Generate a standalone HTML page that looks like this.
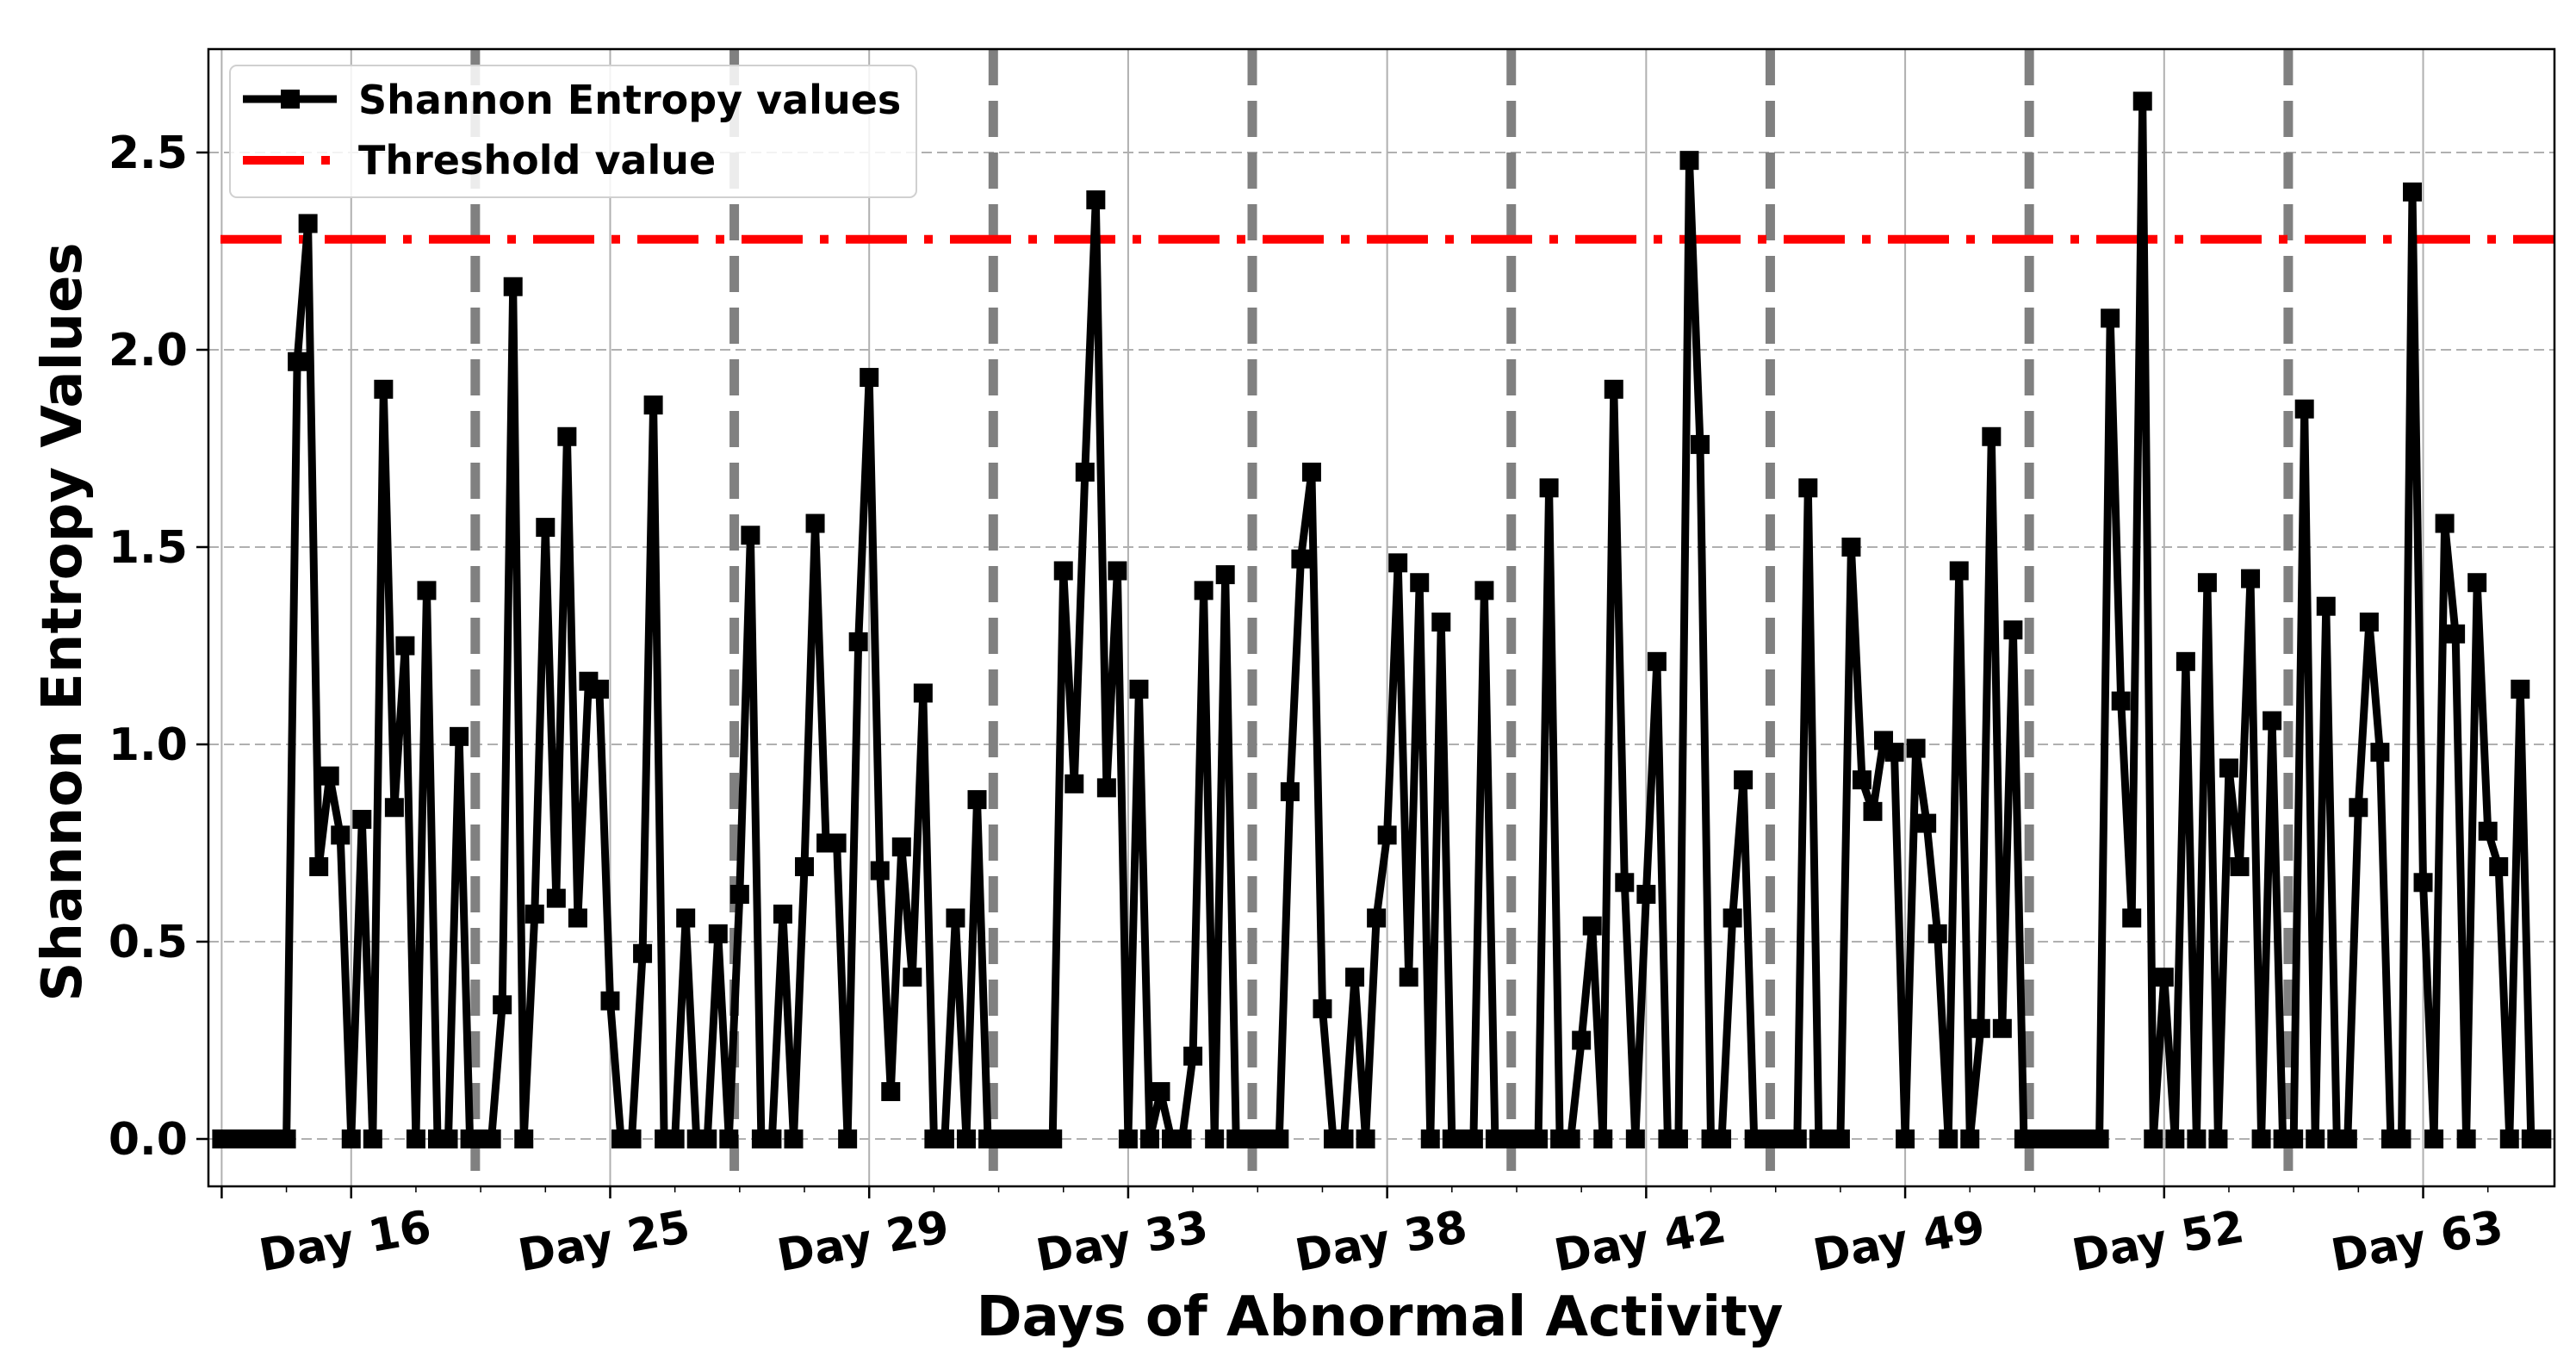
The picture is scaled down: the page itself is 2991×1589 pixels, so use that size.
<!DOCTYPE html>
<html><head><meta charset="utf-8"><style>
html,body{margin:0;padding:0;background:#fff;}
svg{display:block;font-family:"DejaVu Sans","Liberation Sans",sans-serif;}
</style></head><body>
<svg id="chart" width="2991" height="1589" viewBox="0 0 2991 1589" xmlns="http://www.w3.org/2000/svg">
<rect x="0" y="0" width="2991" height="1589" fill="#fff"/>
<g id="grid"></g>
<g id="seps"></g>
<g id="thr"></g>
<g id="series"></g>
<g id="axes"></g>
<g id="legend">
  <rect x="267" y="76" width="797" height="153" rx="8" fill="#fff" fill-opacity="0.85" stroke="#d0d0d0" stroke-width="2"/>
  <line x1="282" y1="115" x2="391" y2="115" stroke="#000" stroke-width="9"/>
  <rect x="326" y="104" width="22" height="22" fill="#000"/>
  <text x="416" y="132" font-size="46" font-weight="bold">Shannon Entropy values</text>
  <line x1="282" y1="186" x2="391" y2="186" stroke="#ff0000" stroke-width="10" stroke-dasharray="71 20 10 20"/>
  <text x="416" y="202" font-size="46" font-weight="bold">Threshold value</text>
</g>
<text transform="translate(94,722) rotate(-90)" text-anchor="middle" font-size="64" font-weight="bold">Shannon Entropy Values</text>
<text x="1602" y="1550" text-anchor="middle" font-size="64" font-weight="bold">Days of Abnormal Activity</text>
</svg>
<script>
const values = [
0,0,0,0,0,0,0,1.97,2.32,0.69,0.92,0.77,0,0.81,0,1.90,0.84,1.25,0,1.39,0,0,1.02,0,
0,0,0.34,2.16,0,0.57,1.55,0.61,1.78,0.56,1.16,1.14,0.35,0,0,0.47,1.86,0,0,0.56,0,0,0.52,0,
0.62,1.53,0,0,0.57,0,0.69,1.56,0.75,0.75,0,1.26,1.93,0.68,0.12,0.74,0.41,1.13,0,0,0.56,0,0.86,0,
0,0,0,0,0,0,1.44,0.90,1.69,2.38,0.89,1.44,0,1.14,0,0.12,0,0,0.21,1.39,0,1.43,0,0,
0,0,0,0.88,1.47,1.69,0.33,0,0,0.41,0,0.56,0.77,1.46,0.41,1.41,0,1.31,0,0,0,1.39,0,0,
0,0,0,1.65,0,0,0.25,0.54,0,1.90,0.65,0,0.62,1.21,0,0,2.48,1.76,0,0,0.56,0.91,0,0,
0,0,0,1.65,0,0,0,1.50,0.91,0.83,1.01,0.98,0,0.99,0.80,0.52,0,1.44,0,0.28,1.78,0.28,1.29,0,
0,0,0,0,0,0,0,2.08,1.11,0.56,2.63,0,0.41,0,1.21,0,1.41,0,0.94,0.69,1.42,0,1.06,0,
0,1.85,0,1.35,0,0,0.84,1.31,0.98,0,0,2.40,0.65,0,1.56,1.28,0,1.41,0.78,0.69,0,1.14,0,0
];
const threshold = [2.28];
const yTicks = [0.0, 0.5, 1.0, 1.5, 2.0, 2.5];
const dayLabels = ["Day 16","Day 25","Day 29","Day 33","Day 38","Day 42","Day 49","Day 52","Day 63"];
const pointsPerDay = 24;

const NS = "http://www.w3.org/2000/svg";
const L = 242, R = 2966, T = 57, B = 1377;
const X0 = 257.4, DX = 12.53;
function xs(i){ return X0 + i*DX; }
function ys(v){ return 1322 - 458*v; }
function mk(tag, attrs, parent){
  const e = document.createElementNS(NS, tag);
  for (const k in attrs) e.setAttribute(k, attrs[k]);
  parent.appendChild(e); return e;
}
const grid = document.getElementById('grid');
const seps = document.getElementById('seps');
const axes = document.getElementById('axes');
const series = document.getElementById('series');
const thr = document.getElementById('thr');

yTicks.forEach(v => {
  const g = mk('line', {x1:L, x2:R, y1:ys(v), y2:ys(v), stroke:'#b0b0b0', 'stroke-width':2, 'stroke-dasharray':'12 6'}, grid);
  
  
  const t = mk('line', {x1:L-14, x2:L, y1:ys(v), y2:ys(v), stroke:'#000', 'stroke-width':2.5}, axes);
  
  
  const lb = mk('text', {x:L-24, y:ys(v)+18, 'text-anchor':'end', 'font-size':52, 'font-weight':'bold'}, axes);
  lb.textContent = v.toFixed(1);
  
  
});
const gridIdx = [0];
dayLabels.forEach((d, k) => gridIdx.push(12 + k*pointsPerDay));
gridIdx.forEach(i => {
  const g = mk('line', {x1:xs(i), x2:xs(i), y1:T, y2:B, stroke:'#b0b0b0', 'stroke-width':2}, grid);
  
  
  const t = mk('line', {x1:xs(i), x2:xs(i), y1:B, y2:B+14, stroke:'#000', 'stroke-width':2.5}, axes);
  
  
});
for (let i = 0; i < values.length; i += 6) {
  const t = mk('line', {x1:xs(i), x2:xs(i), y1:B, y2:B+7, stroke:'#000', 'stroke-width':1.5}, axes);
  
  
}
dayLabels.forEach((d, k) => {
  const cx = xs(12 + k*pointsPerDay) - 4, cy = 1458;
  const lb = mk('text', {x:cx, y:cy, 'text-anchor':'middle', 'font-size':52, 'font-weight':'bold', transform:`rotate(-10 ${cx} ${cy})`}, axes);
  lb.textContent = d;
  
  
});
for (let k = 1; k < dayLabels.length; k++) {
  const x = xs(k*pointsPerDay - 0.5);
  const s = mk('line', {x1:x, x2:x, y1:T, y2:B, stroke:'#808080', 'stroke-width':11, 'stroke-dasharray':'42 18'}, seps);
  
  
}
const th = mk('line', {x1:L+14, x2:R, y1:ys(threshold[0]), y2:ys(threshold[0]), stroke:'#ff0000', 'stroke-width':10, 'stroke-dasharray':'71 20 10 20'}, thr);


const pts = values.map((v, i) => xs(i).toFixed(1) + ',' + ys(v).toFixed(1)).join(' ');
const pl = mk('polyline', {points:pts, fill:'none', stroke:'#000', 'stroke-width':9, 'stroke-linejoin':'miter', 'stroke-miterlimit':3}, series);


values.forEach((v, i) => {
  const m = mk('rect', {x:xs(i)-11, y:ys(v)-11, width:22, height:22, fill:'#000'}, series);
  
  
});
const sp = mk('rect', {x:L, y:T, width:R-L, height:B-T, fill:'none', stroke:'#000', 'stroke-width':2.5}, axes);


</script>
</body></html>
